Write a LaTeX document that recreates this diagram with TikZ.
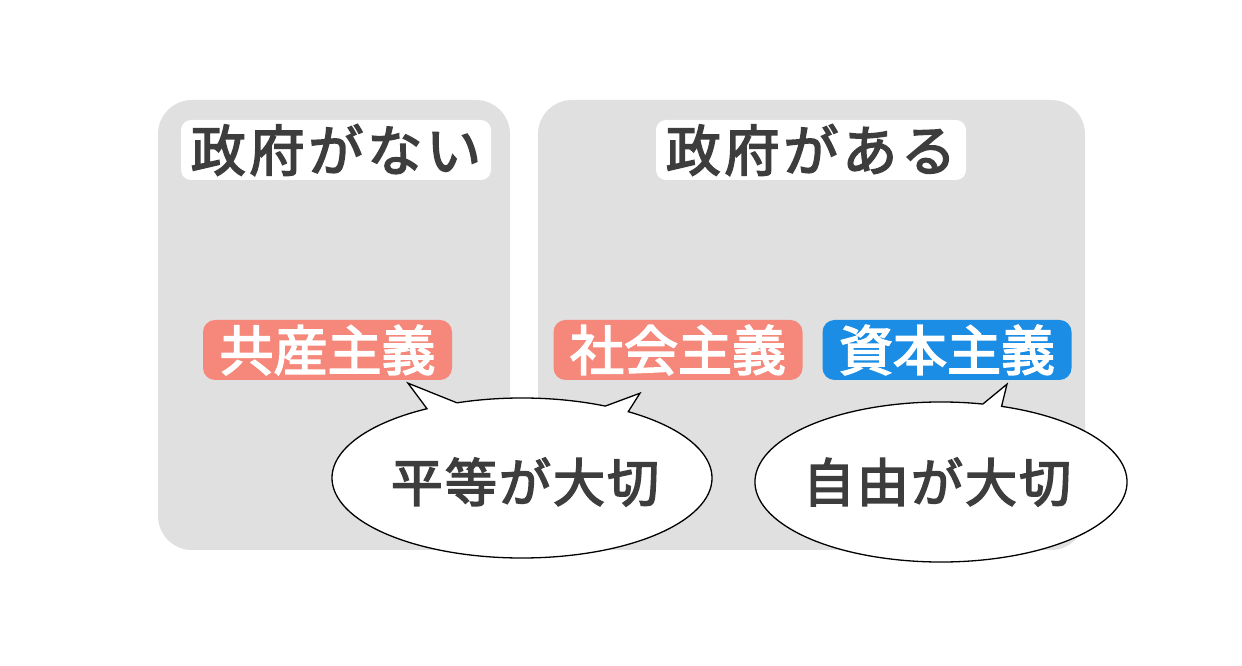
\documentclass[tikz,border=0pt]{standalone}
\usepackage{fontspec}
\usepackage{tikz}
\usetikzlibrary{calc}
\newfontfamily\jpfont[FakeBold=3]{Noto Sans CJK JP}
\newfontfamily\jptitlefont[FakeBold=3,LetterSpace=7]{Noto Sans CJK JP}
\newfontfamily\jpspeechfont[FakeBold=3,LetterSpace=4]{Noto Sans CJK JP}
\definecolor{polInk}{HTML}{3D3D3D}
\definecolor{polPanel}{HTML}{E0E0E0}
\definecolor{polRed}{HTML}{F5877B}
\definecolor{polBlue}{HTML}{1B8DE4}
\tikzset{
  every picture/.style={font=\jpfont, text=polInk},
  pol panel/.style={fill=polPanel, draw=none, rounded corners=34pt},
  pol title/.style={fill=white, rounded corners=10pt, minimum height=60pt,
    minimum width=310pt, inner xsep=4pt, font=\jptitlefont\fontsize{55}{55}\selectfont},
  pol tag/.style={rounded corners=12pt, minimum height=60pt, minimum width=249pt,
    inner xsep=4pt, text=white, font=\jpfont\fontsize{54}{54}\selectfont},
  pol bubble/.style={fill=white, draw=black, line width=1.3pt, line join=miter},
  pol speech/.style={font=\jpspeechfont\fontsize{52}{52}\selectfont}
}

\begin{document}
\begin{tikzpicture}[x=1pt,y=1pt]
  \useasboundingbox (0,0) rectangle (1242,666);
  % two panels
  \node[pol panel, minimum width=352pt, minimum height=450pt] (nogov) at (334,341) {};
  \node[pol panel, minimum width=547pt, minimum height=450pt] (gov) at (811.5,341) {};
  \node[pol title] (nogovtitle) at (336,516) {政府がない};
  \node[pol title] (govtitle) at (811,516) {政府がある};
  % isms
  \node[pol tag, fill=polRed] (kyosan) at (327.5,316) {共産主義};
  \node[pol tag, fill=polRed] (shakai) at (678,316) {社会主義};
  \node[pol tag, fill=polBlue] (shihon) at (947,316) {資本主義};
  % speech bubbles
  \coordinate (tipA) at ($(kyosan.south)+(80.5,-3)$);
  \coordinate (tipB) at ($(shakai.south)+(-38,-13)$);
  \coordinate (tipC) at ($(shihon.south)+(60,-4)$);
  \coordinate (byodoC) at (522,188);
  \coordinate (jiyuC) at (941,184);
  \path[pol bubble] ($(byodoC)+(64:190pt and 80pt)$) -- (tipB)
    -- ($(byodoC)+(56:190pt and 80pt)$)
    arc[start angle=56, end angle=-240, x radius=190pt, y radius=80pt]
    -- (tipA) -- ($(byodoC)+(110:190pt and 80pt)$)
    arc[start angle=110, end angle=64, x radius=190pt, y radius=80pt] -- cycle;
  \path[pol bubble] ($(jiyuC)+(77:186pt and 80pt)$) -- (tipC)
    -- ($(jiyuC)+(71:186pt and 80pt)$)
    arc[start angle=71, end angle=-283, x radius=186pt, y radius=80pt] -- cycle;
  \node[pol speech] (byodo) at ($(byodoC)+(3,-4)$) {平等が大切};
  \node[pol speech] (jiyu) at ($(jiyuC)+(-4,0)$) {自由が大切};
\end{tikzpicture}
\end{document}
